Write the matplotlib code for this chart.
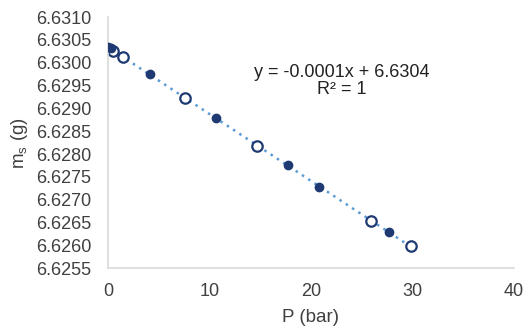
import matplotlib.pyplot as plt
import numpy as np

plt.rcParams['font.family'] = ['Liberation Sans', 'DejaVu Sans']

# filled markers (one run)
p_filled = [0.0, 0.3, 4.2, 10.7, 17.7, 20.8, 27.7]
m_filled = [6.63034, 6.63032, 6.62975, 6.62879, 6.62776, 6.62728, 6.62629]

# open markers (other run)
p_open = [0.5, 1.5, 7.6, 14.7, 25.9, 29.9]
m_open = [6.63025, 6.63012, 6.62923, 6.62817, 6.62653, 6.62598]

# linear trendline from all points
p_all = np.array(p_filled + p_open)
m_all = np.array(m_filled + m_open)
slope, intercept = np.polyfit(p_all, m_all, 1)

navy = '#1F3A73'
gray = '#404040'

fig = plt.figure(figsize=(5.26, 3.29), dpi=100)
ax = fig.add_axes([0.205, 0.185, 0.772, 0.763])

xs = np.array([0, 30])
ax.plot(xs, slope * xs + intercept, linestyle=(0, (1, 2)), color='#5B9BD5', lw=1.8, zorder=1)
ax.plot(p_filled, m_filled, 'o', color=navy, markersize=6, zorder=3)
ax.plot(p_open, m_open, 'o', markerfacecolor='white', markeredgecolor=navy,
        markeredgewidth=1.6, markersize=7.5, zorder=2)

ax.set_xlim(0, 40)
ax.set_ylim(6.6255, 6.6310)
ax.set_xticks([0, 10, 20, 30, 40])
ax.set_yticks(np.arange(6.6255, 6.63101, 0.0005))
ax.yaxis.set_major_formatter(plt.FormatStrFormatter('%.4f'))
ax.tick_params(length=0, labelsize=13, labelcolor=gray)
ax.tick_params(axis='x', pad=11)
ax.tick_params(axis='y', pad=12)

for s in ['top', 'right']:
    ax.spines[s].set_visible(False)
for s in ['left', 'bottom']:
    ax.spines[s].set_color('#D9D9D9')
    ax.spines[s].set_linewidth(1.2)

ax.set_xlabel('P (bar)', fontsize=13.5, color=gray, labelpad=6)
ax.set_ylabel('m$_\\mathregular{s}$ (g)', fontsize=13.5, color=gray, labelpad=4)

ax.text(23, 6.6296, 'y = -0.0001x + 6.6304\nR² = 1', ha='center', va='center',
        fontsize=13, color='#222222', linespacing=1.0)

fig.savefig('out.png', dpi=100)
